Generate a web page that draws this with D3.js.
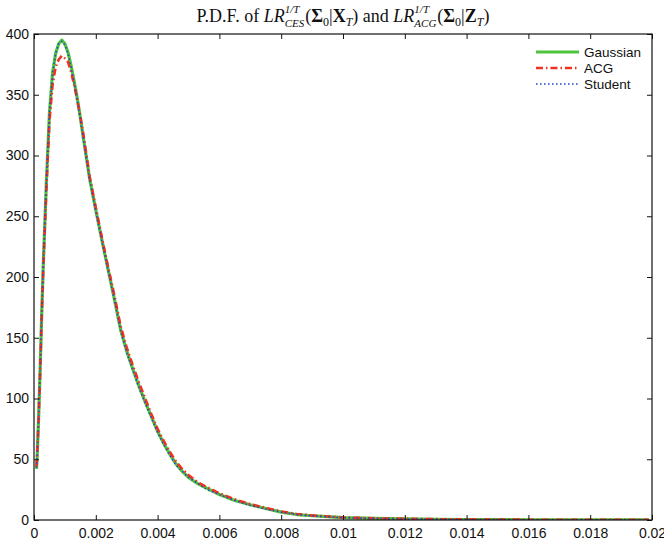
<!DOCTYPE html>
<html><head><meta charset="utf-8">
<script src="https://cdn.jsdelivr.net/npm/d3@7"></script>
<style>body{margin:0;background:#fff}svg{display:block}</style>
</head><body>
<script>
// ---- data ----
const xValues = [0.00008,0.0001,0.00015,0.0002,0.00025,0.0003,0.0004,0.0005,0.0006,0.0007,0.0008,0.0009,0.001,0.0011,0.0012,0.0013,0.0014,0.0015,0.0016,0.0018,0.002,0.0022,0.0024,0.0026,0.0028,0.003,0.0032,0.0034,0.0036,0.0038,0.004,0.0042,0.0044,0.0046,0.0048,0.005,0.0053,0.0056,0.006,0.0065,0.007,0.0075,0.008,0.0085,0.009,0.0095,0.01,0.011,0.012,0.013,0.014,0.015,0.016,0.017,0.018,0.019,0.0199];
const gaussian = [42,50,85,125,170,210,278,335,368,384,392,395,392,385,374,361,347,331,314,281,255,230,206,182,157,139,124,110,97,85,73,63,54,46,40,35,30,26,21,16,12.5,9.5,6.5,4.5,3.5,2.7,2,1.3,0.9,0.6,0.4,0.3,0.2,0.15,0.1,0.1,0.05];
const acg      = [44,52,83,123,168,207,272,328,358,373,379,382,380,377,369,358,346,332,317,283,257,232,208,185,160,142,127,113,100,87,75,65,56,48,42,37,31,27,22,17,13,10,7,5,3.8,2.9,2.1,1.4,1,0.7,0.5,0.35,0.25,0.2,0.15,0.1,0.08];
const student  = [43,51,86,126,171,211,279,336,368,384,392,394,391,384,373,360,346,330,313,280,254,229,205,181,156,138,123,109,96,84,72,62,53,45,40,35,30,25,21,16,12,9,6.5,4.5,3.4,2.6,1.9,1.3,0.9,0.6,0.4,0.3,0.2,0.15,0.1,0.08,0.05];
const seriesNames = ["Gaussian","ACG","Student"];
const xTicks = [0,0.002,0.004,0.006,0.008,0.01,0.012,0.014,0.016,0.018,0.02];
const yTicks = [0,50,100,150,200,250,300,350,400];

// ---- layout ----
const W = 664, H = 544;
const m = {left:34, right:652, top:34, bottom:520};
const svg = d3.select("body").append("svg").attr("width",W).attr("height",H);

const x = d3.scaleLinear().domain([0,0.02]).range([m.left,m.right]);
const y = d3.scaleLinear().domain([0,400]).range([m.bottom,m.top]);

const fmt = d => String(+d.toFixed(4));
const axisFont = "Liberation Sans, Arial, Helvetica, sans-serif";

svg.append("clipPath").attr("id","clip").append("rect")
  .attr("x",m.left).attr("y",m.top).attr("width",m.right-m.left).attr("height",m.bottom-m.top);

const styles = [
  {color:"#4ec43c", width:3.2, dash:null},
  {color:"#f0321e", width:2.6, dash:"7,3,1.5,3"},
  {color:"#2a46c8", width:1.6, dash:"1.6,2.4"}
];
const data = [gaussian, acg, student];
const line = d3.line().x((d,i)=>x(xValues[i])).y(d=>y(d));
const g = svg.append("g").attr("clip-path","url(#clip)");
data.forEach((s,k)=>{
  g.append("path").datum(s).attr("d",line).attr("fill","none")
   .attr("stroke",styles[k].color).attr("stroke-width",styles[k].width)
   .attr("stroke-dasharray",styles[k].dash).attr("stroke-linejoin","round");
});

function styleAxis(sel, labels){
  sel.select(".domain").remove();
  sel.selectAll("line").attr("stroke","#111");
  sel.selectAll("text").attr("font-family",axisFont).attr("font-size",14).attr("fill","#111");
  if(!labels) sel.selectAll("text").remove();
}
svg.append("g").attr("transform",`translate(0,${m.bottom})`)
  .call(d3.axisBottom(x).tickValues(xTicks).tickFormat(fmt).tickSize(-5).tickPadding(8))
  .call(s=>styleAxis(s,true));
svg.append("g").attr("transform",`translate(0,${m.top})`)
  .call(d3.axisTop(x).tickValues(xTicks).tickSize(-5))
  .call(s=>styleAxis(s,false));
svg.append("g").attr("transform",`translate(${m.left},0)`)
  .call(d3.axisLeft(y).tickValues(yTicks).tickSize(-5).tickPadding(5))
  .call(s=>styleAxis(s,true));
svg.append("g").attr("transform",`translate(${m.right},0)`)
  .call(d3.axisRight(y).tickValues(yTicks).tickSize(-5))
  .call(s=>styleAxis(s,false));
svg.append("rect").attr("x",m.left).attr("y",m.top)
  .attr("width",m.right-m.left).attr("height",m.bottom-m.top)
  .attr("fill","none").attr("stroke","#111").attr("stroke-width",1.2);

// legend
const lg = svg.append("g");
seriesNames.forEach((name,k)=>{
  const yy = [52,68,84][k];
  lg.append("line").attr("x1",536).attr("x2",579).attr("y1",yy).attr("y2",yy)
    .attr("stroke",styles[k].color).attr("stroke-width",styles[k].width)
    .attr("stroke-dasharray",styles[k].dash);
  lg.append("text").attr("x",584).attr("y",yy).attr("dy","0.35em")
    .attr("font-family",axisFont).attr("font-size",13.5).attr("fill","#111").text(name);
});

// title with sub/superscripts
const serif = "Liberation Serif, Times New Roman, serif";
const pieces = [
  {t:"P.D.F. of ", s:18},
  {t:"LR", s:18, it:true},
  {stack:[{t:"1/T", s:11, it:true, dy:-9},{t:"CES", s:11, it:true, dy:5}]},
  {t:"(", s:18},
  {t:"Σ", s:18, b:true},
  {t:"0", s:12, dy:4},
  {t:"|", s:18},
  {t:"X", s:18, b:true},
  {t:"T", s:12, it:true, dy:4},
  {t:")", s:18},
  {t:" and ", s:18},
  {t:"LR", s:18, it:true},
  {stack:[{t:"1/T", s:11, it:true, dy:-9},{t:"ACG", s:11, it:true, dy:5}]},
  {t:"(", s:18},
  {t:"Σ", s:18, b:true},
  {t:"0", s:12, dy:4},
  {t:"|", s:18},
  {t:"Z", s:18, b:true},
  {t:"T", s:12, it:true, dy:4},
  {t:")", s:18}
];
const tg = svg.append("g");
function mk(p, xx, base){
  return tg.append("text").attr("x",xx).attr("y",base+(p.dy||0))
    .attr("font-family",serif).attr("font-size",p.s).attr("fill","#111")
    .attr("font-style",p.it?"italic":"normal").attr("font-weight",p.b?"bold":"normal")
    .style("white-space","pre").text(p.t);
}
let cx = 0; const base = 22;
pieces.forEach(p=>{
  if(p.stack){
    let wmax = 0;
    p.stack.forEach(q=>{ const t = mk(q,cx,base); wmax = Math.max(wmax,t.node().getComputedTextLength()); });
    cx += wmax + 1;
  } else {
    const t = mk(p,cx,base); cx += t.node().getComputedTextLength();
  }
});
tg.attr("transform",`translate(${(m.left+m.right)/2 - cx/2},0)`);
</script>
</body></html>
